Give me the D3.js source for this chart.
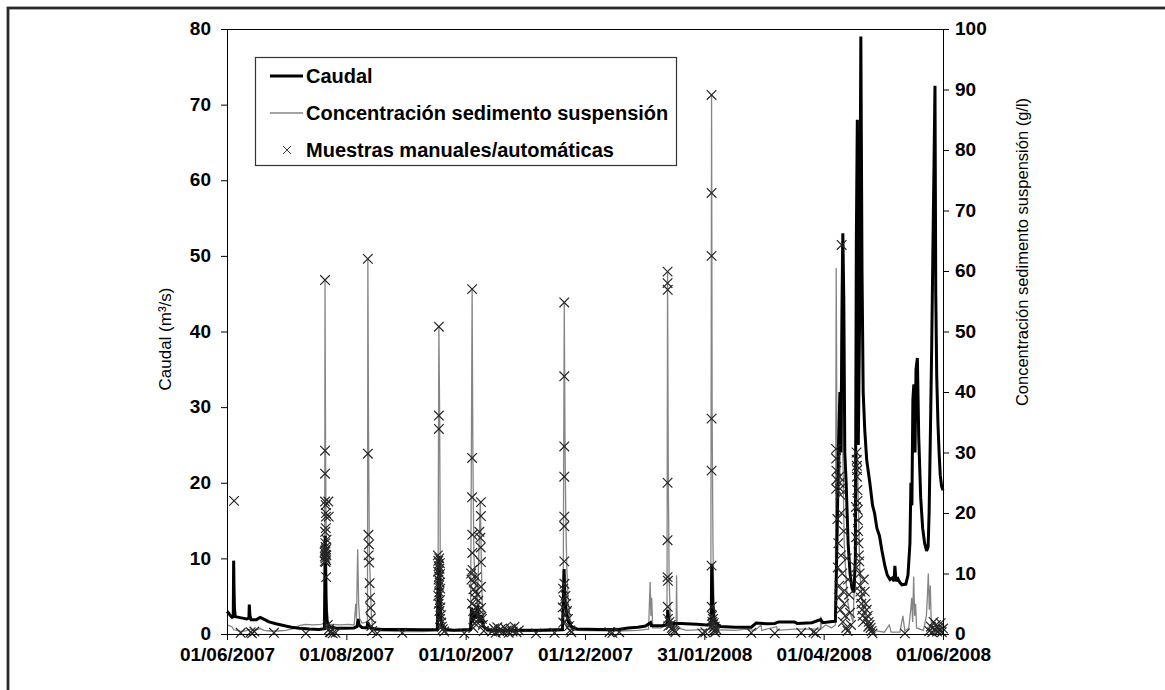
<!DOCTYPE html>
<html>
<head>
<meta charset="utf-8">
<script src="https://cdn.jsdelivr.net/npm/d3@7"></script>
<style>
  html, body { margin: 0; padding: 0; background: #fff; }
  svg { display: block; font-family: "Liberation Sans", Arial, sans-serif; }
</style>
</head>
<body>
<svg id="chart" width="1165" height="690"></svg>
<script>
// ---------------- DATA ----------------
const startDate = "01/06/2007";          // day 0 of all series
const endDate = "01/06/2008";
const xTickLabels = ["01/06/2007", "01/08/2007", "01/10/2007", "01/12/2007", "31/01/2008", "01/04/2008", "01/06/2008"];
const leftTicks = [0, 10, 20, 30, 40, 50, 60, 70, 80];
const rightTicks = [0, 10, 20, 30, 40, 50, 60, 70, 80, 90, 100];
const seriesNames = ["Caudal", "Concentración sedimento suspensión", "Muestras manuales/automáticas"];

// Caudal (m3/s): [day since start, value]
const caudal = [[0,3.0],[0.8,2.8],[1.5,2.5],[2.6,2.2],[3.2,2.3],[3.4,9.7],[3.6,6],[3.8,3.5],[4.2,2.3],[6,2.2],[8,2.1],[10,2.0],[11.2,2.1],[11.4,3.9],[11.7,2.5],[12.3,1.9],[15,1.9],[17,2.2],[18.5,2.0],[21.5,1.6],[25,1.35],[30,1.05],[33,0.9],[37,0.75],[42,0.65],[47,0.6],[49.8,0.7],[50.2,13],[50.5,5],[51,1.8],[52,1.0],[54,0.9],[56,0.75],[60,0.75],[65,0.8],[66.5,1.0],[67,2.0],[67.5,1.2],[69,0.85],[71.5,0.8],[72,1.6],[72.5,0.9],[76,0.65],[80,0.6],[90,0.58],[100,0.55],[107.5,0.6],[108.3,10.3],[108.7,6],[109.2,2],[110,1.0],[112,0.6],[116,0.5],[124.5,0.6],[125,3.5],[125.6,1.5],[126,3.0],[127,2.0],[128,3.7],[129,1.5],[130,2.5],[131,1.0],[133,0.55],[140,0.45],[150,0.5],[160,0.5],[171.5,0.6],[172.3,8.6],[172.8,4.5],[173.5,3],[174.5,1.6],[176,1.0],[179,0.65],[190,0.6],[200,0.6],[205,0.8],[210,0.9],[214,1.05],[216.5,1.5],[217,1.1],[222,1.1],[225,1.2],[225.3,3.2],[225.8,1.8],[227,1.4],[232,1.4],[240,1.3],[245,1.2],[247.5,1.3],[247.8,9.3],[248.3,4],[249,1.8],[252,1.0],[260,0.9],[268,0.9],[270.5,1.45],[276,1.35],[280,1.4],[282,1.6],[290,1.6],[291.5,1.4],[299,1.5],[303.5,1.9],[304.5,1.5],[309.5,1.65],[311,1.7],[311.5,8],[312,15],[312.5,24],[313.3,32],[313.8,24],[314.5,45],[314.8,53],[315.3,44],[315.8,24],[316.5,20],[317.5,12],[318.5,8],[319.5,6],[320.5,5.5],[321.2,10],[321.7,52],[322.2,68],[322.7,25],[323.3,40],[324,79],[324.6,48],[325.2,32],[326,27],[327,23],[328.6,20],[330,17],[331,16],[332.2,14],[333.5,13],[334.8,11],[336.3,9],[337.5,7.8],[338.9,7.2],[340,7.4],[341,7],[341.4,9],[342,7],[343,7.3],[344,6.8],[345,6.5],[347,6.6],[348.1,7.8],[349.1,12],[349.6,20],[350.1,17],[350.6,31],[351.1,33],[351.7,24],[352.2,35],[352.9,36.5],[353.6,26],[354.6,18],[355.6,14],[356.6,12],[357.6,11],[358.4,11.5],[358.9,16],[359.5,25.6],[360.2,37.6],[360.8,50],[361.4,62],[361.9,72.5],[362.3,45],[362.8,34],[363.4,28],[364,24],[364.6,21],[365.3,19.5],[366,19]];

// Concentración sedimento suspensión (g/l): [day, value]
const concentracion = [[0,1.5],[1,1.4],[2.5,1.2],[3.5,0.7],[5,0.6],[8,0.4],[10,0.6],[12,0.8],[14,0.6],[17,0.9],[19,0.6],[22,0.5],[26,0.5],[30,0.6],[34,0.9],[37,1.4],[40,1.6],[44,1.5],[48,1.6],[49.9,1.8],[50.1,58.5],[50.4,30],[50.6,20],[50.9,12],[51.3,4],[52,1.5],[54,1.6],[58,1.5],[62,1.6],[65,1.5],[65.8,5],[66.2,2.5],[66.8,14],[67.3,5],[67.8,2.5],[69,1.8],[71.8,2],[72,62],[72.4,30],[72.8,13],[73.3,8],[73.8,3],[74.5,1],[78,0.5],[90,0.4],[100,0.4],[107.8,0.5],[108.3,50.8],[108.7,36],[109,13],[109.5,5],[110.5,1],[112,0.5],[124.5,0.5],[125.3,57],[125.7,29],[126.2,13],[127,8],[128,5],[129.5,22],[130,12],[130.5,5],[131.5,1.5],[133,0.4],[150,0.4],[171.8,0.5],[172.4,54.8],[172.8,31],[173.2,19],[173.7,11],[174.5,5],[175.5,2],[177,0.6],[200,0.5],[210,0.6],[215.5,0.8],[216.3,8.6],[216.7,3],[217.1,6],[217.6,1],[222,1],[224.9,1.5],[225.2,59.8],[225.6,25],[226,9],[226.6,3],[227.5,1.5],[229.6,1.2],[229.8,9.7],[230.1,1],[235,0.6],[247.3,0.8],[247.7,89.1],[248,36],[248.4,15],[248.9,5],[249.6,1.5],[251,0.7],[260,0.6],[265,0.8],[270,0.6],[273,1.5],[273.3,0.6],[281,1.2],[281.3,0.6],[290,0.8],[303.3,0.8],[303.5,2.9],[303.8,0.9],[306,1.5],[309,1.0],[311,1.5],[311.4,60.5],[311.8,30],[312.3,20],[312.8,30],[313.3,25],[314.2,64.3],[314.8,30],[315.5,15],[316.3,10],[317,6],[318,4],[319,3],[320,2],[321.5,15],[322.2,30],[322.8,20],[323.5,10],[324.5,6],[325.5,4],[327,2],[329,1],[332,0.5],[336,0.3],[338.5,1.5],[339.5,0.3],[344,0.3],[345.5,3],[346.5,0.5],[348.5,1],[349.5,4],[350,6],[350.5,2],[351,9.5],[351.5,3],[352,5],[352.5,1],[356,0.6],[357.5,3],[358,6],[358.5,10],[359,4],[359.5,8],[360,2],[361,1],[363,0.6],[366,0.5]];

// Muestras manuales/automáticas (g/l): [day, value]
const muestras = [
[7,0.2],[12.1,0.3],[12.8,0.1],[14,0.4],[24,0.2],[40.3,0.1],[53,0.3],[54,0.1],[55.5,0.2],[76.8,0.1],[89.6,0.2],[121.3,0.1],[158,0.1],[167.4,0.2],[195.5,0.3],[197,0.2],[200.5,0.3],[243,0.1],[244.5,0.3],[268,0.2],[280,0.1],[293.5,0.2],[299.8,0.3],[301,0.1],[330,0.1],[346.5,0.1],
[3.6,22],
[50.1,58.5],[50.1,30.3],[50.1,26.5],[50.1,21.9],[50.5,21.3],[50.6,20],[50.6,19.4],[50.2,16.9],[50.3,15],[50.4,14.4],[50.2,13.8],[50.5,13.1],[50.3,12.5],[50.4,11.9],[50.7,9.4],[50,12.8],[49.9,13.5],[50.6,14],[50.7,12.2],[50.8,13],[50.9,15.6],[50.5,17.5],[50,12],[51.8,21.9],[52,19.4],[51.5,1.5],[52.2,0.8],[52.6,0.3],
[72,62],[72,29.8],[72.3,16.4],[72.6,14.8],[72.4,13],[72.7,11.8],[72.9,8.4],[73.1,6],[73.3,4.3],[73.5,2.6],[73.8,1.3],[74.2,0.5],
[108.3,50.8],[108.3,36.1],[108.3,33.9],[107.8,13],[108.5,12.5],[108,12.1],[108.8,11.7],[108.2,11.2],[108.6,10.8],[107.9,10.3],[108.9,9.9],[108.4,9.5],[108.1,9],[108.7,8.5],[108.3,8],[109,7.5],[108.5,6.9],[108,6.3],[108.8,5.6],[108.2,5],[109.1,4.4],[108.6,3.8],[109.3,3.1],[108.9,2.5],[109.5,1.9],[109.8,1.2],[110.3,0.8],[111,0.4],
[125.3,57],[125.3,29.1],[125.3,22.6],[129.8,21.8],[129.8,19.5],[125.4,16.4],[129,16.9],[129.5,15.9],[125.4,13.4],[129.7,14.3],[129.8,11.9],[125.5,10.6],[127.5,9.4],[129.8,7.8],[126,7.4],[129.9,4.3],[125.8,3.8],[129.9,2.8],[126.5,1.8],[124.8,10],[125,9],[126.2,8.5],[127,7],[128,6.5],[126.6,6],[128.5,5.5],[125.2,5],[127.3,4.5],[128.8,4],[126.8,3.5],[128.2,3],[130.3,2.5],[127.6,2],[130.8,1.5],[125.9,1],[131.3,0.5],
[135.5,0.4],[136.5,0.9],[137.3,0.2],[138.2,1.1],[139,0.5],[140,0.8],[141,0.3],[142,1.0],[143,0.6],[144,0.2],[145,0.9],[146,0.4],[147,1.2],[148,0.3],[149.2,0.6],
[172.4,54.8],[172.4,42.6],[172.4,31],[172.4,26],[172.4,19.4],[172.4,17.8],[172.4,12],[172.5,8.3],[171.8,7.5],[173,6.3],[172.1,5.6],[173.4,5],[171.6,4.4],[173.8,3.8],[172.8,3.1],[174.3,2.5],[171.9,1.9],[174.8,1.3],[175.5,0.6],[176,0.3],
[225.2,59.9],[225.2,58],[225.3,56.9],[225.2,25],[225.2,15.5],[225.2,9.4],[225.4,8.8],[225.3,4.5],[225.4,2.5],[225.6,1.3],[226.2,2],[226.8,1.5],[227.4,1],[228,0.8],[228.6,0.5],[229.2,0.3],
[247.7,89.1],[247.7,72.9],[247.7,62.5],[247.7,35.6],[247.7,27],[247.7,11.3],[247.8,4.5],[247.9,3],[248.1,2],[248.3,1.5],[248.6,1],[249,0.6],[249.5,0.3],[248.4,2.5],[248.8,1.8],[249.3,1.2],[250,0.8],
[314.2,64.3],[311.3,30.6],[311.4,29],[311.5,27],[311.6,25.5],[311.4,24],[313,26],[313.2,25],[313.4,24],[313.6,23],[314,20],[312.5,15],[313.8,13],[312.2,11],[314.5,10],[313,8],[315,7],[312.8,6],[315.5,5],[313.5,4],[316,3],[314.8,2],[316.5,1],[317.2,0.5],[312,19],[315.2,17],[316.8,12.5],[317.5,9],[318,6.5],[318.5,3.5],[319,1.5],
[321.8,30],[321.9,28.8],[322,27.8],[322.1,27.1],[322,26],[322.2,23.8],[322.3,22],[322.4,20.5],[322.5,18.8],[322.6,17],[322.8,15],[323,13],[323.2,12],[323.4,10],[323.6,8],[323.8,7],[324,6],[324.3,5],[324.6,4],[324.9,3],[325.2,2],[321.5,21],[321.6,16],[321.7,11],
[325.5,9],[326,7],[326.5,5],[327,4],[327.5,3],[328,2],[328.5,1.5],[329,1],[329.5,0.5],[326.8,2.5],[327.8,1.2],
[359,0.5],[359.8,1.2],[360.5,0.3],[361.2,2],[361.8,0.8],[362.4,1.5],[363,0.4],[363.6,1],[364.2,0.6],[364.8,1.8],[365.4,0.3],[366,0.9]
];

// ---------------- DRAW ----------------
const parse = d3.timeParse("%d/%m/%Y");
const fmt = d3.timeFormat("%d/%m/%Y");
const t0 = parse(startDate), t1 = parse(endDate);
const toDate = d => new Date(t0.getTime() + d * 864e5);

const svg = d3.select("#chart");
const W = 1165, H = 690;
const m = { left: 227, right: 943, top: 29, bottom: 634 };

svg.append("rect").attr("width", W).attr("height", H).attr("fill", "#fff");
// outer frame
svg.append("rect").attr("x", 8).attr("y", 8).attr("width", W + 20).attr("height", H + 20)
  .attr("fill", "none").attr("stroke", "#2a2a2a").attr("stroke-width", 2.8);

const x = d3.scaleTime().domain([t0, t1]).range([m.left, m.right]);
const yL = d3.scaleLinear().domain([0, 80]).range([m.bottom, m.top]);
const yR = d3.scaleLinear().domain([0, 100]).range([m.bottom, m.top]);

// top border of plot area
svg.append("line").attr("x1", m.left).attr("x2", m.right).attr("y1", m.top + 0.5).attr("y2", m.top + 0.5)
  .attr("stroke", "#000").attr("stroke-width", 1);

const plot = svg.append("g");

// concentration line
plot.append("path")
  .datum(concentracion)
  .attr("fill", "none").attr("stroke", "#858585").attr("stroke-width", 1.3)
  .attr("d", d3.line().x(d => x(toDate(d[0]))).y(d => yR(d[1])));

// caudal line
plot.append("path")
  .datum(caudal)
  .attr("fill", "none").attr("stroke", "#000").attr("stroke-width", 3)
  .attr("stroke-linejoin", "miter").attr("stroke-miterlimit", 2)
  .attr("d", d3.line().x(d => x(toDate(d[0]))).y(d => yL(d[1])));

// samples (x markers)
const xMark = "M-4.8,-4.8L4.8,4.8M-4.8,4.8L4.8,-4.8";
plot.selectAll("path.muestra").data(muestras).join("path")
  .attr("class", "muestra")
  .attr("transform", d => `translate(${x(toDate(d[0]))},${yR(d[1])})`)
  .attr("d", xMark).attr("fill", "none").attr("stroke", "#262626").attr("stroke-width", 1.2);

// axes
const tickFont = g => g.selectAll("text")
  .attr("font-family", "Liberation Sans, Arial, sans-serif")
  .attr("font-size", 19).attr("font-weight", "bold").attr("fill", "#000");

const xAxis = d3.axisBottom(x).tickValues(xTickLabels.map(parse)).tickFormat(fmt).tickSizeOuter(0).tickSize(6).tickPadding(8);
svg.append("g").attr("transform", `translate(0,${m.bottom})`).call(xAxis).call(tickFont)
  .call(g => g.select(".domain").attr("d", `M${m.left},0.5H${m.right}`));

const yAxisL = d3.axisLeft(yL).tickValues(leftTicks).tickSizeOuter(0).tickSize(6).tickPadding(10);
svg.append("g").attr("transform", `translate(${m.left},0)`).call(yAxisL).call(tickFont)
  .call(g => g.selectAll("text").attr("dy", "0.3em"));

const yAxisR = d3.axisRight(yR).tickValues(rightTicks).tickSizeOuter(0).tickSize(6).tickPadding(6);
svg.append("g").attr("transform", `translate(${m.right},0)`).call(yAxisR).call(tickFont)
  .call(g => g.selectAll("text").attr("dy", "0.3em"));

svg.selectAll(".domain").attr("stroke", "#000");
svg.selectAll(".tick line").attr("stroke", "#000");

// axis titles
svg.append("text")
  .attr("transform", "translate(171,339) rotate(-90)")
  .attr("text-anchor", "middle").attr("font-size", 17).attr("fill", "#000")
  .text("Caudal (m³/s)");
svg.append("text")
  .attr("transform", "translate(1028,252) rotate(-90)")
  .attr("text-anchor", "middle").attr("font-size", 16.5).attr("fill", "#000")
  .text("Concentración sedimento suspensión (g/l)");

// legend
const lg = svg.append("g");
lg.append("rect").attr("x", 255.5).attr("y", 57.5).attr("width", 421).attr("height", 108)
  .attr("fill", "#fff").attr("stroke", "#333").attr("stroke-width", 1.2);
const rows = [76, 113, 150];
lg.append("line").attr("x1", 270).attr("x2", 303).attr("y1", rows[0]).attr("y2", rows[0])
  .attr("stroke", "#000").attr("stroke-width", 3);
lg.append("line").attr("x1", 270).attr("x2", 303).attr("y1", rows[1]).attr("y2", rows[1])
  .attr("stroke", "#858585").attr("stroke-width", 1.3);
lg.append("path").attr("transform", `translate(287,${rows[2]})`).attr("d", "M-4,-4L4,4M-4,4L4,-4")
  .attr("fill", "none").attr("stroke", "#3a3a3a").attr("stroke-width", 1);
lg.selectAll("text.lab").data(seriesNames).join("text")
  .attr("class", "lab")
  .attr("x", 306).attr("y", (d, i) => rows[i]).attr("dy", "0.36em")
  .attr("font-size", 20).attr("font-weight", "bold").attr("fill", "#000")
  .text(d => d);
</script>
</body>
</html>
